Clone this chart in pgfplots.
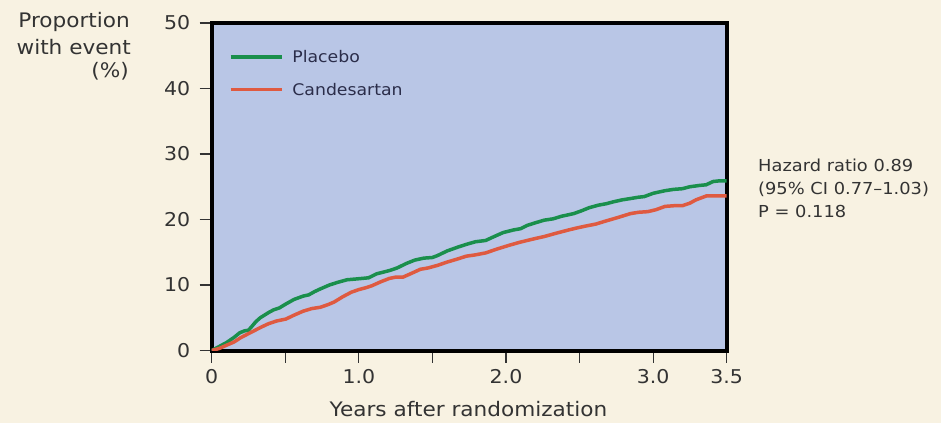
\documentclass[border=0pt]{standalone}
\usepackage{pgfplots}
\pgfplotsset{compat=1.18}
\usepackage{fontspec}
\setmainfont{DejaVu Sans}[FakeStretch=1.08]
\definecolor{bgcream}{HTML}{F8F2E2}
\definecolor{plotbg}{HTML}{B9C6E6}
\definecolor{pgreen}{HTML}{1A8F4C}
\definecolor{cred}{HTML}{DF5A40}
\definecolor{txt}{HTML}{333333}
\definecolor{legtxt}{HTML}{2B2D4A}
\pgfplotstableread{
t v
0 0
0.05 0.6
0.1 1.2
0.152 2.0
0.19 2.7
0.223 3.0
0.25 3.1
0.27 3.6
0.3 4.4
0.33 5.0
0.387 5.8
0.42 6.2
0.46 6.5
0.504 7.1
0.56 7.8
0.621 8.3
0.66 8.5
0.70 9.0
0.738 9.4
0.8 10.0
0.855 10.4
0.92 10.8
0.972 10.9
1.02 11.0
1.066 11.1
1.12 11.7
1.207 12.2
1.26 12.6
1.324 13.3
1.38 13.8
1.441 14.1
1.50 14.2
1.535 14.5
1.6 15.2
1.675 15.8
1.73 16.2
1.792 16.6
1.862 16.8
1.92 17.4
1.98 18.0
2.05 18.4
2.10 18.6
2.144 19.1
2.2 19.5
2.26 19.9
2.32 20.1
2.378 20.5
2.42 20.7
2.46 20.9
2.51 21.3
2.565 21.8
2.63 22.2
2.68 22.4
2.73 22.7
2.79 23.0
2.846 23.2
2.90 23.4
2.94 23.5
3.0 24.0
3.081 24.4
3.14 24.6
3.198 24.7
3.25 25.0
3.315 25.2
3.36 25.3
3.408 25.8
3.45 25.9
3.5 25.9
}\placebo
\pgfplotstableread{
t v
0 0
0.05 0.3
0.1 0.8
0.152 1.3
0.2 2.0
0.27 2.8
0.33 3.5
0.387 4.1
0.44 4.5
0.504 4.8
0.56 5.4
0.621 6.0
0.68 6.4
0.738 6.6
0.79 7.0
0.832 7.4
0.89 8.2
0.949 8.9
1.0 9.3
1.05 9.6
1.09 9.9
1.15 10.5
1.207 11.0
1.25 11.2
1.30 11.2
1.36 11.8
1.418 12.4
1.47 12.6
1.535 13.0
1.60 13.5
1.675 14.0
1.73 14.4
1.792 14.6
1.862 14.9
1.94 15.5
2.027 16.1
2.09 16.5
2.144 16.8
2.2 17.1
2.26 17.4
2.34 17.9
2.425 18.4
2.48 18.7
2.542 19.0
2.61 19.3
2.683 19.8
2.76 20.3
2.846 20.9
2.90 21.1
2.964 21.2
3.02 21.5
3.081 22.0
3.14 22.1
3.198 22.1
3.25 22.5
3.291 23.0
3.362 23.6
3.42 23.6
3.5 23.6
}\candesartan
\begin{document}
\begin{tikzpicture}[x=1pt,y=1pt]
\fill[bgcream] (0,0) rectangle (941,423);
\useasboundingbox (0,0) rectangle (941,423);
\begin{axis}[
  at={(211.7pt,72.5pt)}, anchor=south west,
  scale only axis, width=515pt, height=327.5pt,
  xmin=0, xmax=3.5, ymin=0, ymax=50,
  axis background/.style={fill=plotbg},
  axis line style={line width=4pt, black},
  xtick={0,0.5,...,3.5},
  xticklabels={0,,1.0,,2.0,,3.0,3.5},
  ytick={0,10,...,50},
  tick align=outside, tick pos=left,
  major tick length=12pt,
  tick style={line width=1.2pt, color=txt},
  ticklabel style={font=\fontsize{19}{22}\selectfont, text=txt},
  yticklabel style={xshift=-6pt},
  xticklabel style={yshift=-3pt},
  /pgf/number format/assume math mode=true,
  legend style={at={(axis cs:0,50)}, anchor=north west, draw=none, fill=none,
    font=\fontsize{16}{19}\selectfont, text=legtxt, row sep=15pt, column sep=7pt,
    xshift=17pt, yshift=-25pt, inner sep=0pt},
  legend cell align=left,
  legend image code/.code={\draw[#1, line width=3.5pt] (0pt,0pt) -- (51pt,0pt);},
]
\addplot[pgreen, line width=3.5pt] table[x=t,y=v] {\placebo};
\addlegendentry{Placebo}
\addplot[cred, line width=3.5pt] table[x=t,y=v] {\candesartan};
\addlegendentry{Candesartan}
\end{axis}
\begin{scope}[text=txt, font=\fontsize{20}{22}\selectfont, inner sep=0pt]
\node[anchor=base east] at (130,395) {Proportion};
\node[anchor=base east] at (131,368.7) {with event};
\node[anchor=base east] at (129,345) {(\%)};
\node[anchor=base] at (468.5,6.3) {Years after randomization};
\end{scope}
\begin{scope}[text=txt, font=\fontsize{16.5}{20}\selectfont, inner sep=0pt]
\node[anchor=base west] at (758,251.3) {Hazard ratio 0.89};
\node[anchor=base west] at (758,228) {(95\% CI 0.77–1.03)};
\node[anchor=base west] at (758,205) {P = 0.118};
\end{scope}
\end{tikzpicture}
\end{document}
